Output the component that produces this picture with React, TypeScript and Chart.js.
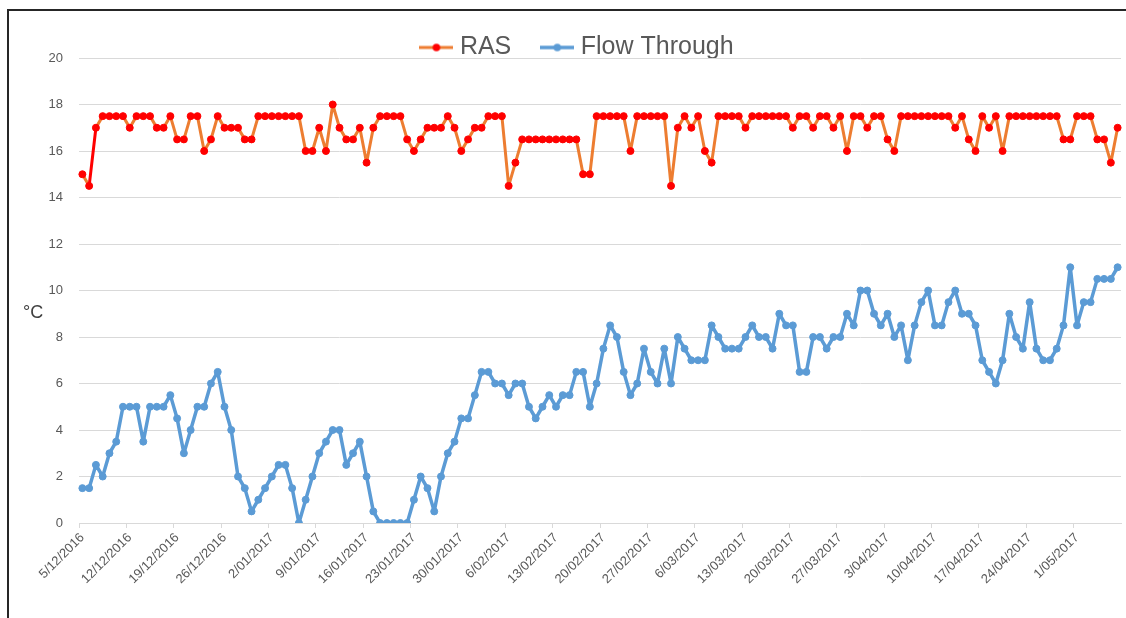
import React, { useEffect, useRef } from "react";
import { Chart, registerables } from "chart.js";

Chart.register(...registerables);

const RAS = [
  15, 14.5, 17, 17.5, 17.5, 17.5, 17.5, 17, 17.5, 17.5, 17.5, 17, 17, 17.5,
  16.5, 16.5, 17.5, 17.5, 16, 16.5, 17.5, 17, 17, 17, 16.5, 16.5, 17.5, 17.5,
  17.5, 17.5, 17.5, 17.5, 17.5, 16, 16, 17, 16, 18, 17, 16.5, 16.5, 17,
  15.5, 17, 17.5, 17.5, 17.5, 17.5, 16.5, 16, 16.5, 17, 17, 17, 17.5, 17,
  16, 16.5, 17, 17, 17.5, 17.5, 17.5, 14.5, 15.5, 16.5, 16.5, 16.5, 16.5, 16.5,
  16.5, 16.5, 16.5, 16.5, 15, 15, 17.5, 17.5, 17.5, 17.5, 17.5, 16, 17.5, 17.5,
  17.5, 17.5, 17.5, 14.5, 17, 17.5, 17, 17.5, 16, 15.5, 17.5, 17.5, 17.5, 17.5,
  17, 17.5, 17.5, 17.5, 17.5, 17.5, 17.5, 17, 17.5, 17.5, 17, 17.5, 17.5, 17,
  17.5, 16, 17.5, 17.5, 17, 17.5, 17.5, 16.5, 16, 17.5, 17.5, 17.5, 17.5, 17.5,
  17.5, 17.5, 17.5, 17, 17.5, 16.5, 16, 17.5, 17, 17.5, 16, 17.5, 17.5, 17.5,
  17.5, 17.5, 17.5, 17.5, 17.5, 16.5, 16.5, 17.5, 17.5, 17.5, 16.5, 16.5, 15.5, 17,
];

const FLOW_THROUGH = [
  1.5, 1.5, 2.5, 2, 3, 3.5, 5, 5, 5, 3.5, 5, 5, 5, 5.5,
  4.5, 3, 4, 5, 5, 6, 6.5, 5, 4, 2, 1.5, 0.5, 1, 1.5,
  2, 2.5, 2.5, 1.5, 0, 1, 2, 3, 3.5, 4, 4, 2.5, 3, 3.5,
  2, 0.5, 0, 0, 0, 0, 0, 1, 2, 1.5, 0.5, 2, 3, 3.5,
  4.5, 4.5, 5.5, 6.5, 6.5, 6, 6, 5.5, 6, 6, 5, 4.5, 5, 5.5,
  5, 5.5, 5.5, 6.5, 6.5, 5, 6, 7.5, 8.5, 8, 6.5, 5.5, 6, 7.5,
  6.5, 6, 7.5, 6, 8, 7.5, 7, 7, 7, 8.5, 8, 7.5, 7.5, 7.5,
  8, 8.5, 8, 8, 7.5, 9, 8.5, 8.5, 6.5, 6.5, 8, 8, 7.5, 8,
  8, 9, 8.5, 10, 10, 9, 8.5, 9, 8, 8.5, 7, 8.5, 9.5, 10,
  8.5, 8.5, 9.5, 10, 9, 9, 8.5, 7, 6.5, 6, 7, 9, 8, 7.5,
  9.5, 7.5, 7, 7, 7.5, 8.5, 11, 8.5, 9.5, 9.5, 10.5, 10.5, 10.5, 11,
];

// Daily categories starting 5/12/2016
const START_DATE = Date.UTC(2016, 11, 5);
const CATEGORIES = RAS.map((_, i) => {
  const d = new Date(START_DATE + i * 86400000);
  return `${d.getUTCDate()}/${String(d.getUTCMonth() + 1).padStart(2, "0")}/${d.getUTCFullYear()}`;
});
const TICK_EVERY = 7;
const Y_TICKS = [0, 2, 4, 6, 8, 10, 12, 14, 16, 18, 20];

const SERIES_NAMES = ["RAS", "Flow Through"];
const FONT = "'Liberation Sans', Arial, sans-serif";
const TEXT_COLOR = "#595959";
const GRID_COLOR = "#d9d9d9";

function makeIcon(line: string, dot: string, lw: number) {
  const c = document.createElement("canvas");
  c.width = 34;
  c.height = 12;
  const ctx = c.getContext("2d")!;
  ctx.strokeStyle = line;
  ctx.lineWidth = lw;
  ctx.beginPath();
  ctx.moveTo(0, 6);
  ctx.lineTo(34, 6);
  ctx.stroke();
  ctx.fillStyle = dot;
  ctx.beginPath();
  ctx.arc(17, 6, 3.8, 0, Math.PI * 2);
  ctx.fill();
  return c;
}

export default function App() {
  const ref = useRef<HTMLCanvasElement | null>(null);

  useEffect(() => {
    if (!ref.current) return;
    const icons = [makeIcon("#ED7D31", "#FF0000", 3), makeIcon("#5B9BD5", "#5B9BD5", 3.5)];

    const unitPlugin = {
      id: "unitLabel",
      beforeLayout(chart: any) {
        const lg = chart.legend;
        if (lg && !lg._patched) {
          const f = lg.fit;
          lg.fit = function () {
            f.call(this);
            this.height = 58;
          };
          lg._patched = true;
        }
      },
      afterDraw(chart: any) {
        const ctx = chart.ctx;
        ctx.save();
        ctx.font = `18px ${FONT}`;
        ctx.fillStyle = "#404040";
        ctx.textAlign = "left";
        ctx.textBaseline = "middle";
        ctx.fillText("°C", 23, 313);
        ctx.restore();
      },
    };

    const chart = new Chart(ref.current, {
      type: "line",
      data: {
        labels: CATEGORIES,
        datasets: [
          {
            label: SERIES_NAMES[0],
            data: RAS,
            borderColor: "#ED7D31",
            borderWidth: 3,
            borderJoinStyle: "round",
            borderCapStyle: "round",
            pointRadius: 3.5,
            pointBackgroundColor: "#FF0000",
            pointBorderColor: "#FF0000",
            pointBorderWidth: 1,
            tension: 0,
            segment: {
              borderColor: (ctx: any) => (ctx.p0DataIndex === 1 ? "#FF0000" : undefined),
            },
          },
          {
            label: SERIES_NAMES[1],
            data: FLOW_THROUGH,
            borderColor: "#5B9BD5",
            borderWidth: 3.5,
            borderJoinStyle: "round",
            borderCapStyle: "round",
            pointRadius: 3.5,
            pointBackgroundColor: "#5B9BD5",
            pointBorderColor: "#5B9BD5",
            pointBorderWidth: 1,
            tension: 0,
          },
        ],
      },
      options: {
        animation: false,
        responsive: false,
        layout: { padding: { left: 35, right: 2, top: 0, bottom: 0 } },
        plugins: {
          tooltip: { enabled: false },
          legend: {
            position: "top",
            align: "center",
            labels: {
              usePointStyle: true,
              pointStyleWidth: 22,
              padding: 35,
              color: TEXT_COLOR,
              font: { size: 25, family: FONT },
              generateLabels: (ch: any) =>
                ch.data.datasets.map((ds: any, i: number) => ({
                  text: ds.label,
                  pointStyle: icons[i],
                  fillStyle: "rgba(0,0,0,0)",
                  strokeStyle: "rgba(0,0,0,0)",
                  lineWidth: 0,
                  hidden: false,
                  datasetIndex: i,
                  fontColor: TEXT_COLOR,
                })),
            },
          },
        },
        scales: {
          x: {
            type: "category",
            offset: true,
            afterFit: (s: any) => {
              s.height = 95;
              s.paddingLeft = 0;
              s.paddingRight = 0;
            },
            grid: {
              display: true,
              offset: true,
              drawOnChartArea: false,
              drawTicks: true,
              tickLength: 5,
              color: (c: any) => (c.index % TICK_EVERY === 0 ? GRID_COLOR : "rgba(0,0,0,0)"),
            },
            border: { display: true, color: GRID_COLOR, width: 1 },
            ticks: {
              autoSkip: false,
              maxRotation: 45,
              minRotation: 45,
              padding: 2,
              color: TEXT_COLOR,
              font: { size: 13, family: FONT },
              callback: function (this: any, value: any, index: number) {
                return index % TICK_EVERY === 0 ? this.getLabelForValue(value) : "";
              },
            },
          },
          y: {
            min: Y_TICKS[0],
            max: Y_TICKS[Y_TICKS.length - 1],
            afterFit: (s: any) => {
              s.width = 44;
            },
            afterBuildTicks: (s: any) => {
              s.ticks = Y_TICKS.map((v) => ({ value: v }));
            },
            grid: { color: GRID_COLOR, drawTicks: false, lineWidth: 1 },
            border: { display: false },
            ticks: {
              padding: 16,
              color: TEXT_COLOR,
              font: { size: 13, family: FONT },
            },
          },
        },
      },
      plugins: [unitPlugin],
    } as any);

    return () => chart.destroy();
  }, []);

  return (
    <div style={{ position: "fixed", left: 0, top: 0, width: 1126, height: 618, background: "#fff", overflow: "hidden" }}>
      <div
        style={{
          position: "absolute",
          left: 7,
          top: 9,
          width: 1130,
          height: 620,
          borderLeft: "2px solid #262626",
          borderTop: "2px solid #262626",
        }}
      />
      <canvas ref={ref} width={1126} height={618} style={{ position: "absolute", left: 0, top: 0, display: "block" }} />
    </div>
  );
}
